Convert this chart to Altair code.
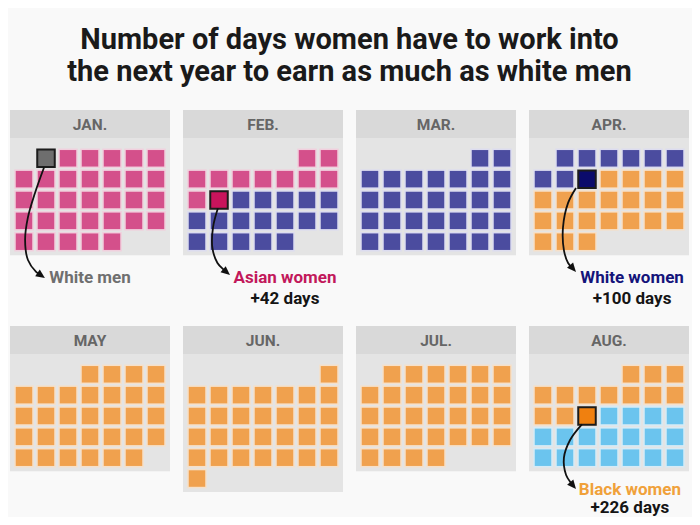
import math
import altair as alt
import pandas as pd

# ---------------- data ----------------
months = ["JAN.", "FEB.", "MAR.", "APR.", "MAY", "JUN.", "JUL.", "AUG."]
first_weekday = [1, 5, 5, 1, 3, 6, 1, 4]          # Monday-first column of day 1
days_drawn = [32, 28, 30, 30, 31, 30, 31, 31]     # squares drawn per month

groups = ["White men", "Asian women", "White women", "Black women", "Later"]
group_last_month = ["JAN.", "FEB.", "APR.", "AUG."]
group_last_day = [1, 11, 9, 13]
extra_days = [None, 42, 100, 226]

title_lines = ["Number of days women have to work into",
               "the next year to earn as much as white men"]

# ---------------- styles ----------------
FONT = "Roboto"
fill_colors = ["#707070", "#d4508b", "#4b4c9f", "#f0a14e", "#6bc4ee"]
halo_colors = ["#d6d6d6", "#f1cfdd", "#dcdcf0", "#f6e0c9", "#d6ebf6"]
highlight_colors = ["#6e6e6e", "#c8145c", "#0b0b6b", "#f0800f"]
label_colors = ["#6f6f6f", "#c2185b", "#14147a", "#f0a13a"]

CX, CY = 22.0, 20.85                 # px per column / per week row
PANEL_DX, PANEL_DY = 173 / CX, 216 / CY
W, H = 684, 509
X0, Y0 = -16 / CX, -150.3 / CY
XDOM = [X0, X0 + W / CX]
YDOM = [Y0, Y0 + H / CY]
PAD_L = 14 / CX                       # panel edge to first column centre
HEAD_TOP, HEAD_BOT = -48.3 / CY, -20.3 / CY
BODY_PAD = 13.5 / CY

# ---------------- tables ----------------
rows, seq = [], 0
for mi, (m, fw, nd) in enumerate(zip(months, first_weekday, days_drawn)):
    for d in range(1, nd + 1):
        pos = fw + d - 1
        rows.append(dict(month=m, mi=mi, day=d, col=pos % 7, row=pos // 7, seq=seq))
        seq += 1
cells = pd.DataFrame(rows)
end_seq = [int(cells[(cells.month == m) & (cells.day == d)].seq.iloc[0])
           for m, d in zip(group_last_month, group_last_day)]


def group_of(s):
    for k, e in enumerate(end_seq):
        if s <= e:
            return k
    return len(end_seq)


cells["g"] = cells.seq.map(group_of)
cells["is_end"] = cells.seq.isin(end_seq).astype(int)
cells["grp"] = cells.g.map(lambda k: groups[k])
cells["key"] = [groups[g] + (" day" if e else "") for g, e in zip(cells.g, cells.is_end)]
cells["x"] = (cells.mi % 4) * PANEL_DX + cells.col
cells["y"] = (cells.mi // 4) * PANEL_DY + cells.row

panels = []
for mi, m in enumerate(months):
    ox, oy = (mi % 4) * PANEL_DX, (mi // 4) * PANEL_DY
    last_row = int(cells[cells.month == m].row.max())
    panels.append(dict(month=m, x=ox - PAD_L, x2=ox + 6 + PAD_L,
                       hy=oy + HEAD_TOP, hy2=oy + HEAD_BOT,
                       by2=oy + last_row + BODY_PAD,
                       tx=ox + 3, ty=oy + (HEAD_TOP + HEAD_BOT) / 2 + 0.06))
panels = pd.DataFrame(panels)

# annotation geometry, relative to each highlighted month's panel (col, week units)
ann_month = group_last_month
ann_label_x = [3.0, 4.0, 4.05, 3.95]
ann_label_y = [5.98, 5.98, 5.98, 5.79]
ann_days_y = [None, 6.99, 6.99, 6.66]
ann_path = [
    [(0.91, 0.44), (0.50, 1.66), (0.18, 2.82), (0.05, 3.92), (0.18, 4.88), (0.55, 5.45)],
    [(0.95, 2.40), (0.73, 3.30), (0.70, 4.30), (0.93, 5.02), (1.23, 5.36)],
    [(1.50, 1.42), (1.14, 2.14), (0.91, 3.30), (0.95, 4.40), (1.14, 5.02)],
    [(1.77, 2.40), (1.23, 3.15), (0.95, 4.01), (1.05, 4.83), (1.27, 5.21)],
]
ann_tip = [(0.95, 5.74), (1.50, 5.60), (1.50, 5.45), (1.50, 5.50)]

lines, heads, labels = [], [], []
for k, m in enumerate(ann_month):
    mi = months.index(m)
    ox, oy = (mi % 4) * PANEL_DX, (mi // 4) * PANEL_DY
    pts = ann_path[k]
    for j, (px, py) in enumerate(pts):
        lines.append(dict(arrow=k, s=j, x=ox + px, y=oy + py))
    tx, ty = ann_tip[k]
    lx, ly = pts[-1]
    lines.append(dict(arrow=k, s=len(pts), x=ox + (lx + tx) / 2, y=oy + (ly + ty) / 2))
    ang = math.degrees(math.atan2((ty - ly) * CY, (tx - lx) * CX)) % 360
    heads.append(dict(x=ox + tx, y=oy + ty, angle=ang))
    labels.append(dict(x=ox + ann_label_x[k], y=oy + ann_label_y[k], text=groups[k], color=label_colors[k]))
    if extra_days[k] is not None:
        labels.append(dict(x=ox + ann_label_x[k], y=oy + ann_days_y[k],
                           text=f"+{extra_days[k]} days", color="#151515"))
lines, heads, labels = pd.DataFrame(lines), pd.DataFrame(heads), pd.DataFrame(labels)

mid_x = (panels.x.min() + panels.x2.max()) / 2
title_df = pd.DataFrame(dict(x=[mid_x, mid_x], y=[-5.674, -4.139], text=title_lines))

# ---------------- chart ----------------
xs = alt.Scale(domain=XDOM, nice=False, zero=False)
ys = alt.Scale(domain=YDOM, nice=False, zero=False, reverse=True)
X = lambda f="x": alt.X(f"{f}:Q", scale=xs, axis=None)
Y = lambda f="y": alt.Y(f"{f}:Q", scale=ys, axis=None)

base_p = alt.Chart(panels)
body = base_p.mark_rect(color="#e4e4e4").encode(X(), x2="x2:Q", y=Y("hy2"), y2="by2:Q")
head = base_p.mark_rect(color="#d9d9d9").encode(X(), x2="x2:Q", y=Y("hy"), y2="hy2:Q")
head_txt = base_p.mark_text(font=FONT, fontSize=15.5, fontWeight="bold", color="#666666",
                            baseline="middle").encode(X("tx"), Y("ty"), text="month:N")

halo = alt.Chart(cells).mark_square(size=19.5 ** 2, opacity=1, strokeWidth=0).encode(
    X(), Y(), color=alt.Color("grp:N", scale=alt.Scale(domain=groups, range=halo_colors), legend=None))

key_domain = groups + [g + " day" for g in groups[:4]]
key_range = fill_colors + highlight_colors
days = alt.Chart(cells).transform_filter("datum.is_end == 0").mark_square(
    size=16.5 ** 2, opacity=1, strokeWidth=0).encode(
    X(), Y(), color=alt.Color("key:N", scale=alt.Scale(domain=key_domain, range=key_range), legend=None))
hi = alt.Chart(cells).transform_filter("datum.is_end == 1").mark_square(
    size=17.5 ** 2, opacity=1, stroke="#1c1c1c", strokeWidth=2).encode(
    X(), Y(), fill=alt.Fill("key:N", scale=alt.Scale(domain=key_domain, range=key_range), legend=None))

arrows = alt.Chart(lines).mark_line(interpolate="catmull-rom", color="#111111", strokeWidth=1.8).encode(
    X(), Y(), detail="arrow:N", order="s:Q")
heads_l = alt.Chart(heads).mark_point(shape="M-2,-0.9L0,0L-2,0.9Z", filled=True, size=81,
                                      color="#111111", opacity=1).encode(
    X(), Y(), angle=alt.Angle("angle:Q", scale=None))
label_l = alt.Chart(labels).mark_text(font=FONT, fontSize=17, fontWeight="bold", align="center",
                                      baseline="alphabetic").encode(
    X(), Y(), text="text:N", color=alt.Color("color:N", scale=None))
title_l = alt.Chart(title_df).mark_text(font=FONT, fontSize=29, fontWeight="bold", align="center",
                                        baseline="middle", color="#1a1a1a").encode(
    X(), Y(), text="text:N")

chart = alt.layer(body, head, head_txt, halo, days, hi, arrows, heads_l, label_l, title_l).resolve_scale(
    color="independent", fill="independent"
).properties(
    width=W, height=H, padding=0,
    autosize=alt.AutoSizeParams(type="fit", contains="padding"),
    background="#f9f9f9",
).configure_view(stroke=None)

chart.save("out.html", embed_options={"renderer": "svg", "actions": False})
